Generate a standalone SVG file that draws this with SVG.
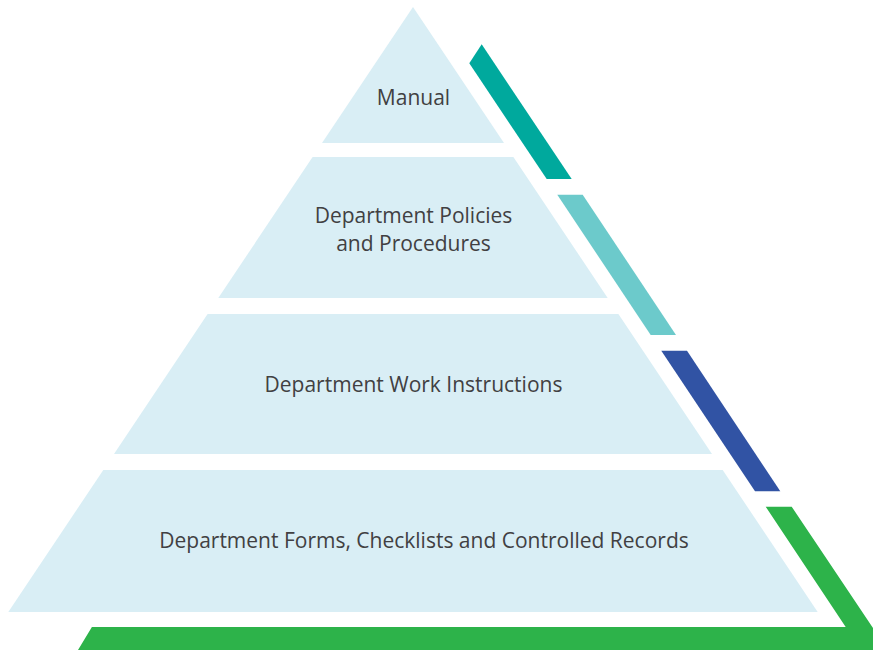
<svg xmlns="http://www.w3.org/2000/svg" width="873" height="650" viewBox="0 0 873 650">
<style>
.tier{fill:#D9EEF5}
.lbl{font-family:"Open Sans","Noto Sans",sans-serif;font-size:21px;fill:#414042;text-anchor:middle}
</style>
<rect width="873" height="650" fill="#FFFFFF"/>
<g id="bands">
<polygon points="481.7,44.3 571.7,179 546.7,179 469.3,63.3" fill="#00A99D"/>
<polygon points="557.3,194.7 582.7,194.7 676,335 650.7,335" fill="#6CCACB"/>
<polygon points="661.3,350.7 687,350.7 780.3,491.3 755,491.3" fill="#3153A4"/>
<polygon points="765.7,506.7 791.7,506.7 873,628 873,650 78,650 91.9,627 845.7,627" fill="#2DB34A"/>
</g>
<g id="tier1">
<polygon class="tier" points="413,7 504,143 322,143"/>
<text class="lbl" x="413.5" y="105">Manual</text>
</g>
<g id="tier2">
<polygon class="tier" points="312.6,157 513.4,157 607.7,298 218.3,298"/>
<text class="lbl" x="413.5" y="223">Department Policies</text>
<text class="lbl" x="413.5" y="251">and Procedures</text>
</g>
<g id="tier3">
<polygon class="tier" points="207.6,314 618.4,314 712,454 114,454"/>
<text class="lbl" x="413.5" y="392">Department Work Instructions</text>
</g>
<g id="tier4">
<polygon class="tier" points="103.3,470 722.7,470 817.7,612 8.3,612"/>
<text class="lbl" x="424" y="548">Department Forms, Checklists and Controlled Records</text>
</g>
</svg>
